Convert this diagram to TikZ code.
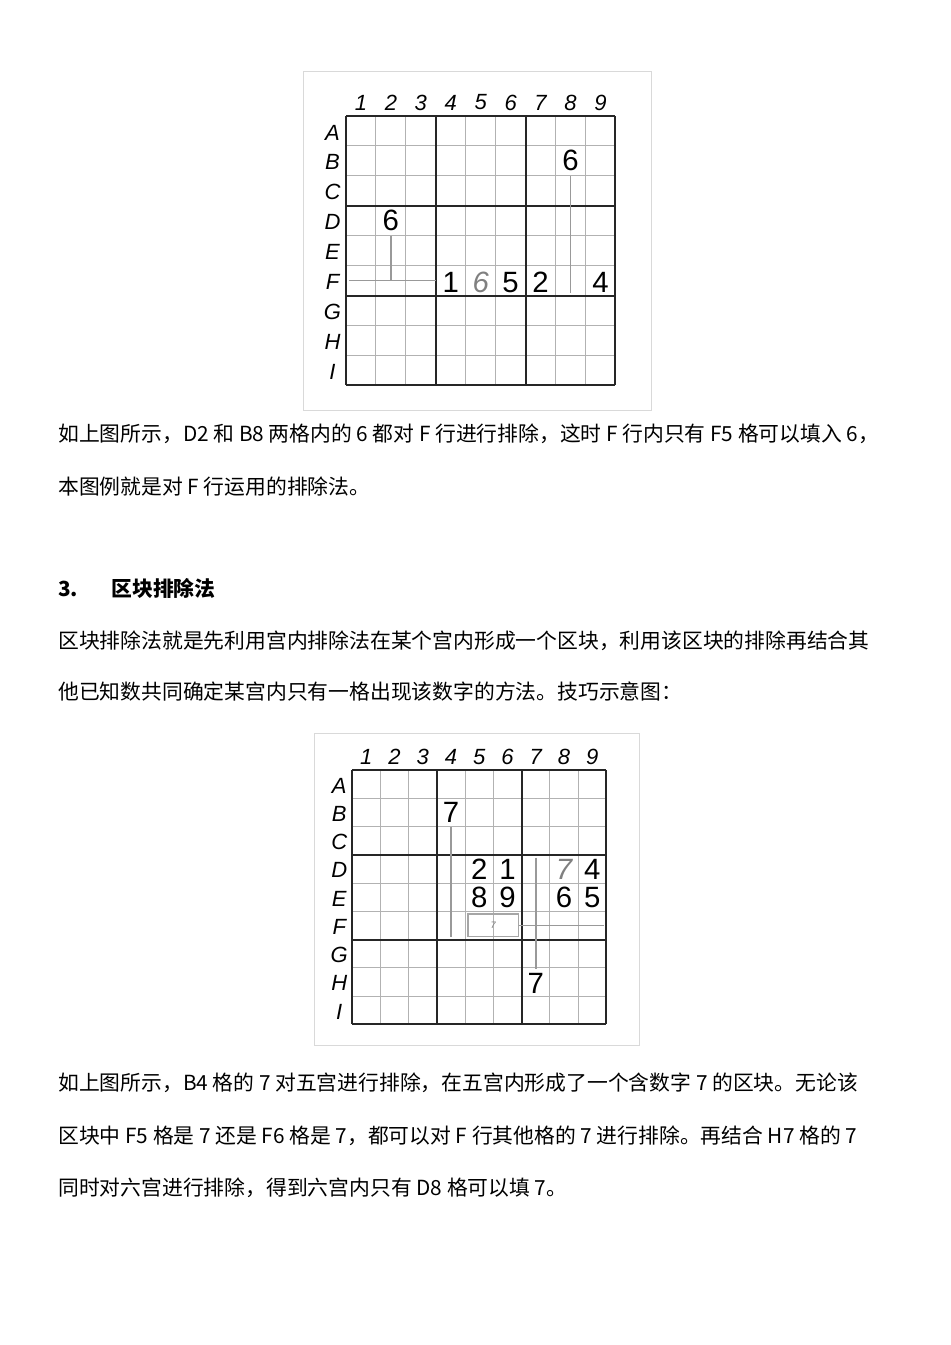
\documentclass[tikz,border=0pt]{standalone}
\usepackage{fontspec}
\setmainfont{Liberation Serif}
\setsansfont{Liberation Sans}
\newfontfamily\cjk{Noto Sans CJK SC}
\begin{document}
\begin{tikzpicture}[x=0.75pt,y=-0.75pt,
  thinl/.style={draw=gray!60,line width=0.8pt},
  thickl/.style={draw=black!85,line width=1.4pt},
  lab/.style={font=\sffamily\itshape\fontsize{16.5}{16.5}\selectfont},
  dig/.style={font=\sffamily\fontsize{22}{22}\selectfont},
  txt/.style={anchor=west,inner sep=0pt,font=\cjk\fontsize{15.6}{15.6}\selectfont},
  elim/.style={draw=gray!80,line width=1.2pt}]
\useasboundingbox[fill=white] (0,0) rectangle (950,1345);
% ---------- grid 1
\draw[gray!30] (303,71) rectangle (651,410);
\begin{scope}[shift={(346,116)},x=22.45pt,y=-22.45pt]
  \foreach \i in {1,2,4,5,7,8} {\draw[thinl] (\i,0)--(\i,9); \draw[thinl] (0,\i)--(9,\i);}
  \foreach \i in {0,3,6,9} {\draw[thickl] (\i,0)--(\i,9); \draw[thickl] (0,\i)--(9,\i);}
  \foreach \n [count=\c] in {1,...,9} \node[lab] (c1\c) at (\c-0.5,-0.45) {\n};
  \foreach \l [count=\r] in {A,B,C,D,E,F,G,H,I} \node[lab] (r1\r) at (-0.45,\r-0.45) {\l};
  \node[dig] (b8) at (7.5,1.5) {6};
  \node[dig] (d2) at (1.5,3.5) {6};
  \node[dig] (f4) at (3.5,5.55) {1};
  \node[dig,text=gray,font=\sffamily\itshape\fontsize{22}{22}\selectfont] (f5) at (4.5,5.55) {6};
  \node[dig] (f6) at (5.5,5.55) {5};
  \node[dig] (f7) at (6.5,5.55) {2};
  \node[dig] (f9) at (8.5,5.55) {4};
  \coordinate (p1) at (1.5,5.5); \coordinate (p2) at (0.1,5.5); \coordinate (p3) at (3,5.5);
  \coordinate (p4) at (7.5,5.9);
  \draw[elim,line width=0.9pt] (d2.south) -- (p1);
  \draw[elim,line width=0.9pt] (p2) -- (p3);
  \draw[elim,line width=0.9pt] (b8.south) -- (p4);
\end{scope}
\node[txt] (t1) at (58,434) {如上图所示，D2 和 B8 两格内的 6 都对 F 行进行排除，这时 F 行内只有 F5 格可以填入 6，};
\node[txt] (t2) at (58,487) {本图例就是对 F 行运用的排除法。};
\node[txt,font=\cjk\bfseries\fontsize{15.6}{15.6}\selectfont] (t3) at (58,588) {3.\hspace{1.6em}区块排除法};
\node[txt] (t4) at (58,641) {区块排除法就是先利用宫内排除法在某个宫内形成一个区块，利用该区块的排除再结合其};
\node[txt] (t5) at (58,692) {他已知数共同确定某宫内只有一格出现该数字的方法。技巧示意图：};
% ---------- grid 2
\draw[gray!30] (314,733) rectangle (639,1045);
\begin{scope}[shift={(352,770)},x=21.2pt,y=-21.2pt]
  \foreach \i in {1,2,4,5,7,8} {\draw[thinl] (\i,0)--(\i,9); \draw[thinl] (0,\i)--(9,\i);}
  \foreach \i in {0,3,6,9} {\draw[thickl] (\i,0)--(\i,9); \draw[thickl] (0,\i)--(9,\i);}
  \foreach \n [count=\c] in {1,...,9} \node[lab] (c2\c) at (\c-0.5,-0.45) {\n};
  \foreach \l [count=\r] in {A,B,C,D,E,F,G,H,I} \node[lab] (r2\r) at (-0.45,\r-0.45) {\l};
  \node[dig] (g2b4) at (3.5,1.5) {7};
  \node[dig] (g2d5) at (4.5,3.5) {2};
  \node[dig] (g2d6) at (5.5,3.5) {1};
  \node[dig,text=gray,font=\sffamily\itshape\fontsize{22}{22}\selectfont] (g2d8) at (7.5,3.5) {7};
  \node[dig] (g2d9) at (8.5,3.5) {4};
  \node[dig] (g2e5) at (4.5,4.5) {8};
  \node[dig] (g2e6) at (5.5,4.5) {9};
  \node[dig] (g2e8) at (7.5,4.5) {6};
  \node[dig] (g2e9) at (8.5,4.5) {5};
  \node[dig] (g2h7) at (6.5,7.55) {7};
  \node[draw=gray!70,line width=1pt,minimum width=38pt,minimum height=17pt,inner sep=0pt,
        font=\sffamily\itshape\fontsize{7}{7}\selectfont,text=gray] (blk) at (5,5.5) {7};
  \coordinate (q1) at (3.5,5.9);
  \coordinate (q2) at (8.9,5.5);
  \coordinate (q3) at (6.5,3.1);
  \draw[elim] (g2b4.south) -- (q1);
  \draw[elim] (blk.east) -- (q2);
  \draw[elim] (q3) -- (g2h7.north);
\end{scope}
\node[txt] (t6) at (58,1083) {如上图所示，B4 格的 7 对五宫进行排除，在五宫内形成了一个含数字 7 的区块。无论该};
\node[txt] (t7) at (58,1136) {区块中 F5 格是 7 还是 F6 格是 7，都可以对 F 行其他格的 7 进行排除。再结合 H7 格的 7};
\node[txt] (t8) at (58,1188) {同时对六宫进行排除，得到六宫内只有 D8 格可以填 7。};
\end{tikzpicture}
\end{document}
